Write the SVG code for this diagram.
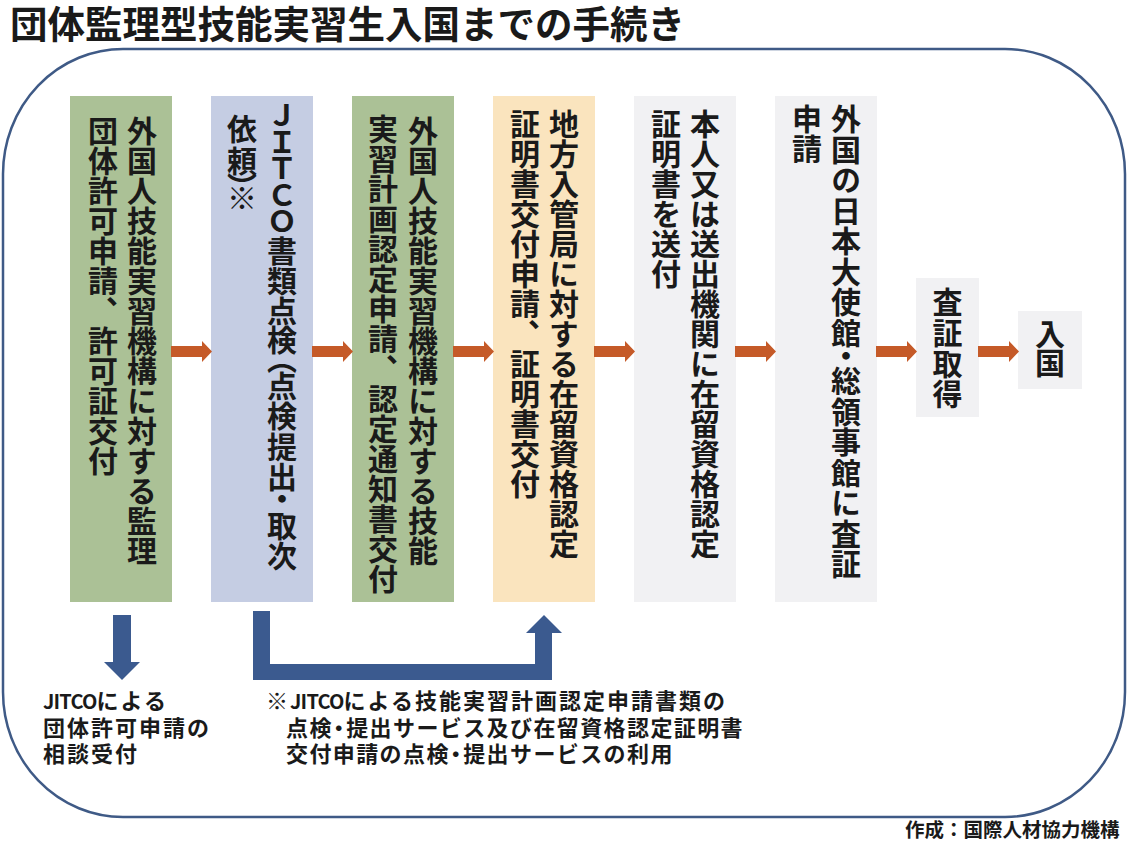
<svg xmlns="http://www.w3.org/2000/svg" width="1127" height="841" viewBox="0 0 1127 841">
<defs>
<style>
text{font-family:"Noto Sans CJK JP","Noto Sans CJK SC",sans-serif;font-weight:700;fill:#1a1a1a}
.title{font-size:37.5px}
.v{writing-mode:vertical-rl;font-size:30px}
.note{font-size:22px}
.credit{font-size:19.5px}
.green{fill:#abc196}
.blue{fill:#c5cde3}
.tan{fill:#fae4be}
.gray{fill:#f1f1f3}
.oa{fill:#c55a28}
.ba{fill:#3b5a8f}
.frame{fill:none;stroke:#3f5a86;stroke-width:2.5}
</style>
<path id="oarrow" d="M0,-5.5H31V-10.5L41,0L31,10.5V5.5H0Z"/>
</defs>
<rect width="1127" height="841" fill="#ffffff"/>
<text id="title" class="title" x="10" y="37.5">団体監理型技能実習生入国までの手続き</text>
<rect id="frame" class="frame" x="3" y="49" width="1122" height="768" rx="120" ry="125"/>

<g id="node1">
<rect class="green" x="70" y="96" width="102" height="506"/>
<text class="v" x="142" y="116">外国人技能実習機構に対する監理</text>
<text class="v" x="103" y="116">団体許可申請、許可証交付</text>
</g>
<g id="node2">
<rect class="blue" x="211" y="96" width="102" height="506"/>
<text class="v" x="282" y="100 127 153 180 206 236 266 296 325 344 371 401 432 462 484 511 541">ＪＩＴＣＯ書類点検（点検提出・取次</text>
<text class="v" x="242" y="114 146 172 182.5">依頼）※</text>
</g>
<g id="node3">
<rect class="green" x="352" y="96" width="102" height="506"/>
<text class="v" x="423" y="116">外国人技能実習機構に対する技能</text>
<text class="v" x="383" y="114">実習計画認定申請、認定通知書交付</text>
</g>
<g id="node4">
<rect class="tan" x="493" y="96" width="102" height="506"/>
<text class="v" x="564" y="109">地方入管局に対する在留資格認定</text>
<text class="v" x="525" y="109">証明書交付申請、証明書交付</text>
</g>
<g id="node5">
<rect class="gray" x="634" y="96" width="102" height="506"/>
<text class="v" x="705" y="109">本人又は送出機関に在留資格認定</text>
<text class="v" x="666" y="109">証明書を送付</text>
</g>
<g id="node6">
<rect class="gray" x="775" y="96" width="102" height="506"/>
<text class="v" x="846" y="104 134.5 165 195.5 226 256.5 287 317.5 341 366 396.5 427 457.5 488 518.5 549">外国の日本大使館・総領事館に査証</text>
<text class="v" x="807" y="104">申請</text>
</g>
<g id="node7">
<rect class="gray" x="916" y="278" width="63" height="139"/>
<text class="v" x="947.5" y="287" style="letter-spacing:0.7px">査証取得</text>
</g>
<g id="node8">
<rect class="gray" x="1018" y="311" width="64" height="78"/>
<text class="v" x="1050" y="319" style="letter-spacing:-1px">入国</text>
</g>

<g id="connectors">
<use href="#oarrow" class="oa" x="171" y="351.5"/>
<use href="#oarrow" class="oa" x="312" y="351.5"/>
<use href="#oarrow" class="oa" x="453" y="351.5"/>
<use href="#oarrow" class="oa" x="594" y="351.5"/>
<use href="#oarrow" class="oa" x="735" y="351.5"/>
<use href="#oarrow" class="oa" x="876" y="351.5"/>
<use href="#oarrow" class="oa" x="978" y="351.5"/>
<polygon class="ba" points="113,615 131,615 131,662 140,662 122,680 104,662 113,662"/>
<polygon class="ba" points="253,611 270,611 270,664 535,664 535,633 526,633 544,615 562,633 552,633 552,680 253,680"/>
</g>

<g id="note-left">
<text class="note" x="43" y="709" style="letter-spacing:2px"><tspan style="font-size:20px;letter-spacing:-0.8px">JITCO</tspan>による</text>
<text class="note" x="43" y="735.5" style="letter-spacing:2px">団体許可申請の</text>
<text class="note" x="43" y="762" style="letter-spacing:2px">相談受付</text>
</g>
<g id="note-right">
<text class="note" x="266" y="709" style="letter-spacing:2px">※<tspan style="font-size:20px;letter-spacing:-0.8px">JITCO</tspan>による技能実習計画認定申請書類の</text>
<text class="note" x="286" y="735.5" style="letter-spacing:1.4px">点検<tspan dx="-5">・</tspan><tspan dx="-5">提出サービス及び在留資格認定証明書</tspan></text>
<text class="note" x="286" y="762" style="letter-spacing:1.4px">交付申請の点検<tspan dx="-5">・</tspan><tspan dx="-5">提出サービスの利用</tspan></text>
</g>
<text id="credit" class="credit" x="905" y="837">作成：国際人材協力機構</text>
</svg>
